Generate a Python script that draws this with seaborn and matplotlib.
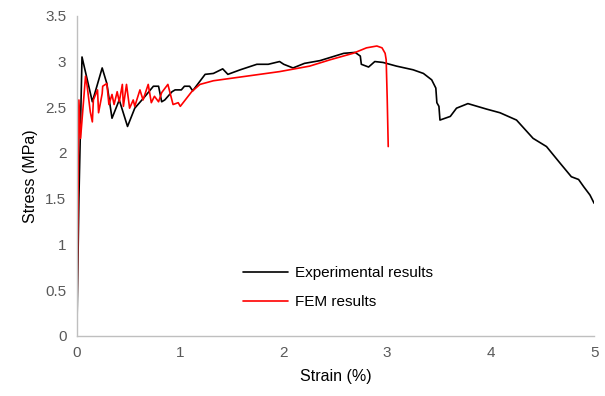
import matplotlib
matplotlib.use("Agg")
import matplotlib.pyplot as plt
import seaborn as sns
import pandas as pd

exp_strain = [0, 0.02, 0.05, 0.15, 0.245, 0.29, 0.34, 0.41, 0.49, 0.56, 0.66, 0.74, 0.79, 0.82,
              0.85, 0.92, 0.95, 1.01, 1.04, 1.09, 1.12, 1.24, 1.32, 1.41, 1.46, 1.58, 1.74, 1.85,
              1.96, 2.0, 2.09, 2.20, 2.35, 2.58, 2.69, 2.74, 2.75, 2.82, 2.88, 2.96, 3.09, 3.25,
              3.35, 3.43, 3.47, 3.48, 3.50, 3.51, 3.61, 3.67, 3.78, 3.96, 4.09, 4.25, 4.41, 4.54,
              4.67, 4.78, 4.85, 4.90, 4.96, 5.0]
exp_stress = [0, 1.5, 3.05, 2.56, 2.93, 2.76, 2.38, 2.58, 2.29, 2.49, 2.62, 2.73, 2.73, 2.56,
              2.58, 2.67, 2.69, 2.69, 2.73, 2.73, 2.68, 2.86, 2.87, 2.92, 2.86, 2.91, 2.97, 2.97,
              3.0, 2.97, 2.93, 2.98, 3.01, 3.09, 3.10, 3.06, 2.97, 2.94, 3.0, 2.99, 2.95, 2.91,
              2.87, 2.80, 2.71, 2.55, 2.51, 2.36, 2.40, 2.49, 2.54, 2.48, 2.44, 2.36, 2.16, 2.07,
              1.89, 1.74, 1.71, 1.63, 1.54, 1.45]

fem_strain = [0, 0.02, 0.036, 0.084, 0.10, 0.13, 0.15, 0.16, 0.20, 0.21, 0.245, 0.25, 0.29,
              0.31, 0.34, 0.36, 0.39, 0.41, 0.44, 0.45, 0.48, 0.51, 0.545, 0.56, 0.61, 0.64,
              0.69, 0.72, 0.75, 0.79, 0.82, 0.88, 0.93, 0.98, 1.0, 1.11, 1.19, 1.32, 1.64,
              1.96, 2.25, 2.45, 2.67, 2.80, 2.90, 2.95, 2.98, 2.99, 3.0, 3.01]
fem_stress = [0, 2.58, 2.16, 2.84, 2.73, 2.45, 2.34, 2.58, 2.69, 2.44, 2.65, 2.73, 2.76,
              2.53, 2.64, 2.53, 2.67, 2.56, 2.75, 2.51, 2.75, 2.49, 2.58, 2.51, 2.69, 2.58,
              2.75, 2.55, 2.62, 2.56, 2.66, 2.75, 2.53, 2.55, 2.51, 2.67, 2.75, 2.79, 2.84,
              2.89, 2.95, 3.02, 3.09, 3.15, 3.17, 3.15, 3.09, 3.02, 2.6, 2.07]

series_names = ["Experimental results", "FEM results"]
series_colors = ["#000000", "#FF0000"]

x_ticks = [0, 1, 2, 3, 4, 5]
y_ticks = [0, 0.5, 1, 1.5, 2, 2.5, 3, 3.5]
y_tick_labels = ["0", "0.5", "1", "1.5", "2", "2.5", "3", "3.5"]

df = pd.concat([
    pd.DataFrame({"strain": exp_strain, "stress": exp_stress, "series": series_names[0]}),
    pd.DataFrame({"strain": fem_strain, "stress": fem_stress, "series": series_names[1]}),
], ignore_index=True)

sns.set_style("white")
plt.rcParams["font.family"] = ["Liberation Sans", "DejaVu Sans"]

fig = plt.figure(figsize=(6.05, 3.96), dpi=100)
ax = fig.add_axes([0.127, 0.152, 0.855, 0.808])

sns.lineplot(data=df, x="strain", y="stress", hue="series", hue_order=series_names,
             palette=series_colors, estimator=None, sort=False, linewidth=1.2, ax=ax)

ax.set_xlim(0, 5)
ax.set_ylim(0, 3.5)
ax.set_xticks(x_ticks)
ax.set_xticklabels([str(t) for t in x_ticks])
ax.set_yticks(y_ticks)
ax.set_yticklabels(y_tick_labels)

for s in ["top", "right"]:
    ax.spines[s].set_visible(False)
for s in ["left", "bottom"]:
    ax.spines[s].set_color("#BFBFBF")
    ax.spines[s].set_linewidth(1.0)

ax.tick_params(axis="both", which="major", direction="inout", length=7, width=1.0,
               color="#BFBFBF", labelcolor="#595959", labelsize=11)
ax.tick_params(axis="x", pad=4)
ax.tick_params(axis="y", pad=4)

ax.set_xlabel("Strain (%)", fontsize=11.5, color="#000000", labelpad=6)
ax.set_ylabel("Stress (MPa)", fontsize=11.5, color="#000000", labelpad=5)

leg = ax.legend(loc="lower left", bbox_to_anchor=(0.294, 0.04), frameon=False,
                fontsize=11, handlelength=3.0, labelspacing=1.0, handletextpad=0.4)
for t in leg.get_texts():
    t.set_color("#000000")

fig.savefig("out.png", dpi=100)
